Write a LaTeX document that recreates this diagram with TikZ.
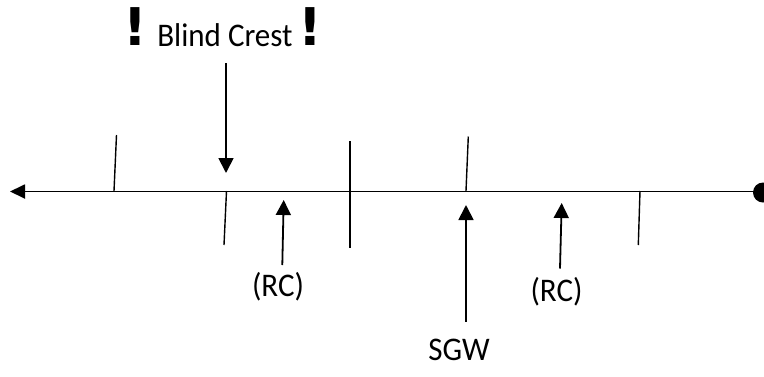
\documentclass[tikz,border=0pt]{standalone}
\usepackage{fontspec}
\setmainfont{Carlito}
\newfontfamily\bangfont{DejaVu Sans}
\usetikzlibrary{arrows.meta}
\begin{document}
\begin{tikzpicture}[x=1pt,y=-1pt,
  mainline/.style={line width=1.8pt},
  tick/.style={line width=1.4pt},
  ptr/.style={line width=1.8pt,-{Triangle[width=15pt,length=15pt]}},
  lbl/.style={font=\fontsize{33}{38}\selectfont,anchor=base,inner sep=0pt,xscale=0.94},
  bang/.style={font=\bangfont\bfseries\fontsize{52}{58}\selectfont,anchor=base,inner sep=0pt}]
\useasboundingbox (0,0) rectangle (764,376);
\clip (0,0) rectangle (764,376);
% main road line
\coordinate (L) at (10,191.5);
\coordinate (R) at (763,191.5);
\draw[mainline,-{Triangle[width=14pt,length=15pt]}] (R) -- (L);
\fill (763,192.5) circle (10);
% ticks
\coordinate (t1a) at (114,191); \coordinate (t1b) at (116.5,135);
\coordinate (t2a) at (226.5,191); \coordinate (t2b) at (224,245);
\coordinate (t3a) at (350,141); \coordinate (t3b) at (350,247.5);
\coordinate (t4a) at (466,191); \coordinate (t4b) at (468.3,136.5);
\coordinate (t5a) at (640,191); \coordinate (t5b) at (638.3,245);
\draw[tick] (t1a) -- (t1b);
\draw[tick] (t2a) -- (t2b);
\draw[tick] (t3a) -- (t3b);
\draw[tick] (t4a) -- (t4b);
\draw[tick] (t5a) -- (t5b);
% labels
\node[lbl] (bc) at (225,46.5) {Blind Crest};
\node[bang] (b1) at (135,45.5) {!};
\node[bang] (b2) at (310.7,45.5) {!};
\node[lbl] (rc1) at (278,296.5) {(RC)};
\node[lbl] (rc2) at (556.5,301.5) {(RC)};
\node[lbl] (sgw) at (459,360) {SGW};
% arrows
\coordinate (bcs) at (226,63); \coordinate (bce) at (226,173);
\coordinate (rc1s) at (282.3,265); \coordinate (rc1e) at (283.7,200);
\coordinate (sgws) at (466,321.5); \coordinate (sgwe) at (466,205);
\coordinate (rc2s) at (560,268.5); \coordinate (rc2e) at (561.7,203);
\draw[ptr] (bcs) -- (bce);
\draw[ptr] (rc1s) -- (rc1e);
\draw[ptr] (sgws) -- (sgwe);
\draw[ptr] (rc2s) -- (rc2e);
\end{tikzpicture}
\end{document}
